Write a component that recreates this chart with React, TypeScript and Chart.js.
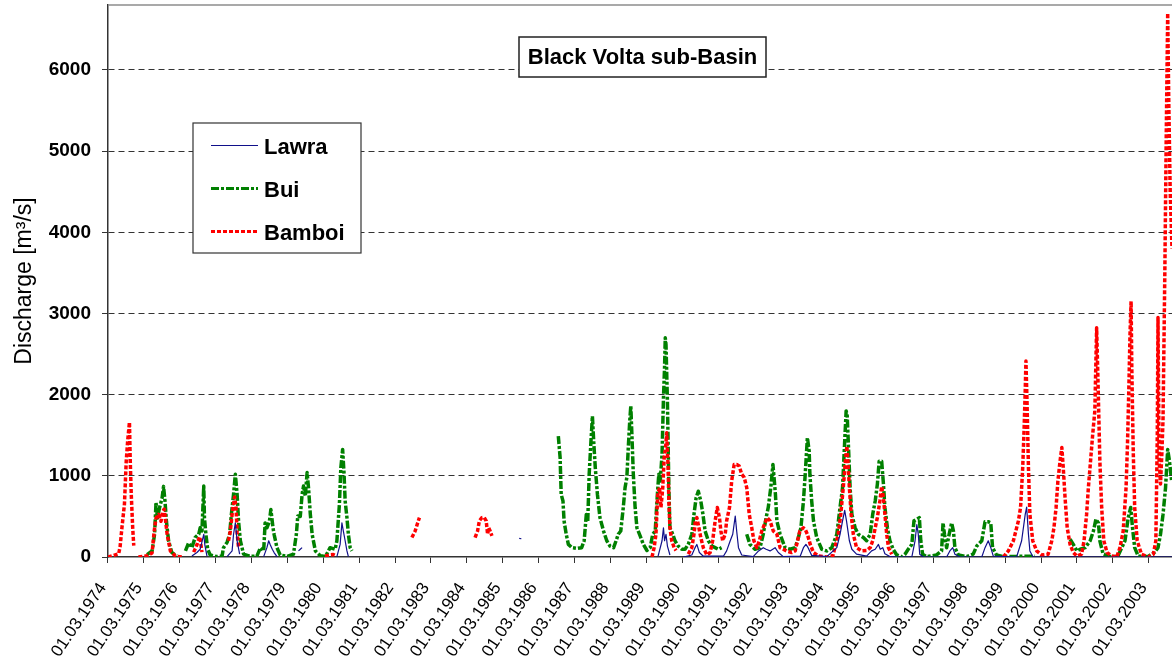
import { useEffect, useRef } from 'react';
import { Chart, registerables } from 'chart.js';

Chart.register(...registerables);

// Discharge records: [decimal year, m³/s]; null marks a gap in the record.
type Pt = [number, number] | null;

const LAWRA: Pt[] = [
  [1976.50, 12], [1976.64, 55], [1976.73, 95], [1976.83, 280], [1976.86, 150], [1976.92, 12], null,
  [1977.48, 5], [1977.62, 75], [1977.66, 280], [1977.71, 420], [1977.76, 200], [1977.83, 35], null,
  [1978.50, 5], [1978.59, 115], [1978.64, 200], [1978.68, 155], [1978.74, 95], [1978.79, 55], [1978.87, 5], null,
  [1979.47, 75], [1979.52, 95], [1979.57, 115], null,
  [1980.54, 5], [1980.63, 155], [1980.68, 420], [1980.72, 320], [1980.77, 200], [1980.82, 75], [1980.86, 5], null,
  [1985.62, 230], [1985.68, 225], null,
  [1989.49, 12], [1989.60, 200], [1989.64, 360], [1989.67, 200], [1989.71, 280], [1989.75, 135], [1989.82, 25], null,
  [1990.20, 0], [1990.43, 25], [1990.52, 115], [1990.57, 155], [1990.64, 55], [1990.75, 10], [1991.31, 10],
  [1991.40, 75], [1991.50, 200], [1991.57, 280], [1991.64, 505], [1991.68, 320], [1991.73, 115], [1991.82, 25],
  [1992.14, 5], [1992.29, 75], [1992.42, 115], [1992.50, 95], [1992.61, 75], [1992.75, 115], [1992.84, 55],
  [1992.98, 5], [1993.45, 10], [1993.54, 115], [1993.61, 155], [1993.67, 115], [1993.77, 20], [1994.19, 5],
  [1994.47, 115], [1994.56, 280], [1994.63, 445], [1994.69, 575], [1994.74, 445], [1994.82, 200], [1994.89, 95],
  [1995.02, 35], [1995.30, 10], [1995.44, 75], [1995.54, 95], [1995.63, 155], [1995.68, 95], [1995.75, 115],
  [1995.81, 40], [1995.95, 5], [1996.14, 0], [1996.56, 0], [1996.65, 200], [1996.70, 400], [1996.74, 280],
  [1996.78, 35], [1996.88, 0], [1997.53, 0], [1997.62, 75], [1997.70, 115], [1997.76, 35], [1997.90, 0],
  [1998.51, 0], [1998.60, 115], [1998.69, 200], [1998.76, 115], [1998.83, 10], [1999.48, 0], [1999.62, 200],
  [1999.72, 525], [1999.76, 615], [1999.81, 280], [1999.85, 75], [1999.94, 0], [2003.81, 0],
];

const BUI: Pt[] = [
  [1975.25, 30], [1975.39, 75], [1975.46, 280], [1975.50, 670], [1975.54, 480], [1975.60, 610], [1975.67, 730],
  [1975.71, 870], [1975.75, 690], [1975.79, 440], [1975.85, 200], [1975.94, 55], [1976.08, 12], null,
  [1976.32, 75], [1976.41, 175], [1976.50, 115], [1976.59, 240], [1976.69, 280], [1976.73, 360], [1976.78, 320],
  [1976.83, 875], [1976.85, 480], [1976.89, 280], [1976.94, 95], [1977.01, 25], [1977.18, 5], [1977.34, 10],
  [1977.38, 115], [1977.48, 180], [1977.55, 280], [1977.60, 525], [1977.66, 770], [1977.71, 1020], [1977.76, 770],
  [1977.80, 440], [1977.85, 200], [1977.94, 35], [1978.13, 8], [1978.31, 10], [1978.41, 115], [1978.50, 75],
  [1978.54, 420], [1978.59, 360], [1978.66, 440], [1978.70, 585], [1978.76, 360], [1978.79, 280], [1978.87, 115],
  [1978.96, 25], [1979.15, 8], [1979.33, 35], [1979.41, 280], [1979.45, 505], [1979.52, 500], [1979.57, 770],
  [1979.61, 875], [1979.66, 750], [1979.71, 1040], [1979.75, 850], [1979.80, 525], [1979.85, 280], [1979.94, 75],
  [1980.08, 15], [1980.22, 5], [1980.35, 115], [1980.49, 95], [1980.54, 200], [1980.61, 650], [1980.65, 1100],
  [1980.70, 1325], [1980.74, 1020], [1980.77, 690], [1980.82, 485], [1980.86, 280], [1980.91, 115], [1980.96, 75], null,
  [1986.71, 1490], [1986.76, 1225], [1986.79, 770], [1986.84, 690], [1986.87, 445], [1986.93, 280], [1986.99, 155],
  [1987.09, 115], [1987.23, 105], [1987.36, 115], [1987.43, 200], [1987.49, 525], [1987.53, 440], [1987.57, 1020],
  [1987.62, 1430], [1987.66, 1735], [1987.70, 1390], [1987.74, 1100], [1987.80, 770], [1987.87, 485], [1987.97, 320],
  [1988.06, 200], [1988.15, 135], [1988.25, 115], [1988.32, 200], [1988.38, 280], [1988.45, 320], [1988.52, 610],
  [1988.57, 855], [1988.62, 980], [1988.66, 1350], [1988.70, 1675], [1988.73, 1860], [1988.76, 1510], [1988.80, 1020],
  [1988.85, 610], [1988.90, 360], [1988.99, 260], [1989.08, 155], [1989.18, 80], [1989.27, 115], [1989.34, 280],
  [1989.41, 320], [1989.47, 770], [1989.51, 1020], [1989.55, 935], [1989.60, 1265], [1989.64, 1960], [1989.67, 2330],
  [1989.69, 2700], [1989.71, 2620], [1989.75, 1920], [1989.79, 855], [1989.82, 360], [1989.90, 280], [1989.96, 200],
  [1990.05, 135], [1990.15, 95], [1990.24, 95], [1990.33, 155], [1990.43, 280], [1990.49, 525], [1990.55, 730],
  [1990.61, 810], [1990.68, 690], [1990.74, 525], [1990.80, 320], [1990.89, 200], [1990.99, 135], [1991.08, 115],
  [1991.17, 95], [1991.26, 115], null,
  [1991.96, 280], [1992.05, 155], [1992.19, 95], [1992.33, 115], [1992.42, 280], [1992.50, 485], [1992.56, 610],
  [1992.63, 855], [1992.69, 1140], [1992.73, 935], [1992.76, 770], [1992.80, 445], [1992.89, 280], [1993.03, 115],
  [1993.17, 95], [1993.31, 115], [1993.40, 240], [1993.47, 360], [1993.54, 690], [1993.59, 1020], [1993.65, 1470],
  [1993.70, 1305], [1993.72, 1020], [1993.77, 690], [1993.82, 445], [1993.91, 240], [1994.05, 95], [1994.19, 75],
  [1994.33, 115], [1994.47, 280], [1994.56, 610], [1994.63, 855], [1994.69, 1430], [1994.73, 1800], [1994.76, 1740],
  [1994.80, 1305], [1994.84, 855], [1994.89, 525], [1994.98, 360], [1995.07, 280], [1995.21, 240], [1995.30, 200],
  [1995.40, 280], [1995.47, 525], [1995.54, 690], [1995.60, 895], [1995.65, 1180], [1995.72, 1180], [1995.77, 895],
  [1995.81, 610], [1995.88, 360], [1995.95, 200], [1996.04, 95], [1996.14, 25], [1996.28, 0], [1996.37, 35],
  [1996.46, 95], [1996.56, 155], [1996.62, 445], [1996.70, 465], [1996.77, 485], [1996.81, 200], [1996.86, 35],
  [1996.97, 5], [1997.25, 25], [1997.39, 75], [1997.43, 420], [1997.47, 280], [1997.53, 115], [1997.60, 280],
  [1997.67, 420], [1997.72, 320], [1997.76, 115], [1997.86, 25], [1998.09, 5], [1998.27, 35], [1998.37, 135],
  [1998.51, 200], [1998.60, 435], [1998.69, 435], [1998.76, 420], [1998.81, 115], [1998.92, 25], [1999.11, 5],
  [1999.58, 8], [1999.99, 10], null,
  [2000.97, 218], [2001.06, 155], [2001.16, 75], [2001.25, 95], [2001.39, 115], [2001.53, 200], [2001.62, 320],
  [2001.69, 465], [2001.76, 420], [2001.80, 200], [2001.89, 35], [2002.08, 5], [2002.30, 8], [2002.50, 200],
  [2002.59, 485], [2002.66, 610], [2002.71, 360], [2002.77, 115], [2002.87, 10], [2003.14, 5], [2003.33, 60],
  [2003.42, 115], [2003.49, 280], [2003.56, 525], [2003.63, 855], [2003.69, 1325], [2003.74, 1180], [2003.80, 935],
];

const BAMBOI: Pt[] = [
  [1974.16, 0], [1974.32, 20], [1974.46, 40], [1974.50, 130], [1974.55, 360], [1974.62, 650], [1974.67, 1180],
  [1974.71, 1430], [1974.76, 1660], [1974.78, 1220], [1974.81, 770], [1974.85, 360], [1974.88, 140], null,
  [1975.01, 0], [1975.25, 15], [1975.39, 50], [1975.45, 320], [1975.50, 480], [1975.57, 525], [1975.64, 440],
  [1975.69, 565], [1975.73, 590], [1975.81, 280], [1975.90, 75], [1976.04, 12], [1976.22, 0], null,
  [1976.55, 60], [1976.64, 150], [1976.71, 250], [1976.73, 220], [1976.78, 60], null,
  [1977.52, 200], [1977.57, 320], [1977.62, 525], [1977.66, 650], [1977.69, 740], [1977.73, 610], [1977.76, 300],
  [1977.80, 115], null,
  [1980.21, 10], [1980.33, 25], [1980.44, 30], [1980.52, 15], null,
  [1982.63, 240], [1982.72, 320], [1982.79, 420], [1982.84, 485], null,
  [1984.39, 240], [1984.46, 320], [1984.51, 445], [1984.58, 485], [1984.64, 490], [1984.70, 445], [1984.74, 280],
  [1984.77, 360], [1984.81, 320], [1984.86, 260], null,
  [1989.32, 0], [1989.38, 115], [1989.43, 280], [1989.48, 770], [1989.53, 855], [1989.57, 610], [1989.62, 855],
  [1989.66, 1225], [1989.70, 1350], [1989.73, 1530], [1989.77, 1100], [1989.79, 690], [1989.82, 360], [1989.87, 200],
  [1989.94, 115], [1989.99, 80], null,
  [1990.33, 35], [1990.43, 115], [1990.49, 280], [1990.53, 445], [1990.57, 485], [1990.61, 400], [1990.68, 240],
  [1990.75, 115], [1990.85, 25], [1990.94, 55], [1991.01, 200], [1991.08, 445], [1991.14, 610], [1991.20, 485],
  [1991.24, 320], [1991.29, 200], [1991.36, 280], [1991.40, 445], [1991.48, 610], [1991.54, 935], [1991.61, 1140],
  [1991.68, 1140], [1991.75, 1120], [1991.82, 1020], [1991.89, 980], [1991.96, 855], [1992.03, 525], [1992.10, 360],
  [1992.16, 200], [1992.24, 115], [1992.31, 200], [1992.38, 320], [1992.47, 420], [1992.53, 485], [1992.61, 445],
  [1992.70, 320], [1992.80, 280], [1992.89, 115], [1993.07, 75], [1993.21, 55], [1993.31, 75], [1993.44, 320],
  [1993.54, 360], [1993.59, 340], [1993.65, 280], [1993.73, 155], [1993.82, 55], [1993.96, 12], [1994.19, 0],
  [1994.36, 15], [1994.51, 280], [1994.58, 525], [1994.65, 855], [1994.71, 1180], [1994.75, 1365], [1994.78, 1180],
  [1994.82, 855], [1994.87, 525], [1994.93, 280], [1995.02, 115], [1995.16, 75], [1995.30, 80], [1995.40, 115],
  [1995.47, 200], [1995.54, 360], [1995.60, 485], [1995.67, 690], [1995.72, 870], [1995.77, 730], [1995.81, 525],
  [1995.86, 280], [1995.91, 115], [1996.00, 35], null,
  [1999.11, 0], [1999.25, 75], [1999.39, 200], [1999.53, 445], [1999.59, 610], [1999.65, 1100], [1999.69, 1595],
  [1999.72, 2045], [1999.74, 2415], [1999.77, 1920], [1999.81, 1100], [1999.85, 525], [1999.93, 200], [2000.04, 75],
  [2000.18, 25], [2000.36, 35], [2000.46, 200], [2000.52, 360], [2000.58, 610], [2000.63, 935], [2000.69, 1180],
  [2000.74, 1350], [2000.78, 1100], [2000.83, 730], [2000.89, 360], [2000.97, 155], [2001.06, 55], [2001.16, 12],
  [2001.29, 35], [2001.36, 200], [2001.43, 525], [2001.48, 855], [2001.54, 1180], [2001.60, 1510], [2001.66, 1800],
  [2001.71, 2825], [2001.75, 2125], [2001.80, 1180], [2001.85, 610], [2001.91, 200], [2002.00, 55], [2002.13, 12],
  [2002.27, 0], [2002.36, 115], [2002.45, 320], [2002.53, 855], [2002.57, 1390], [2002.61, 2125], [2002.64, 2745],
  [2002.67, 3150], [2002.69, 2330], [2002.73, 1305], [2002.77, 610], [2002.84, 200], [2002.96, 35], [2003.15, 0],
  [2003.29, 35], [2003.36, 200], [2003.40, 1500], [2003.42, 2950], [2003.45, 1200], [2003.49, 900], [2003.53, 1300],
  [2003.56, 1700], [2003.61, 3500], [2003.65, 5200], [2003.69, 6700], [2003.72, 5600], [2003.76, 4500], [2003.81, 3800],
];

// Axis ticks: one label per hydrological year start (1 March)
const TICK_YEARS = [
  1974, 1975, 1976, 1977, 1978, 1979, 1980, 1981, 1982, 1983, 1984, 1985, 1986, 1987, 1988,
  1989, 1990, 1991, 1992, 1993, 1994, 1995, 1996, 1997, 1998, 1999, 2000, 2001, 2002, 2003,
];
const Y_TICKS = [0, 1000, 2000, 3000, 4000, 5000, 6000];
const MARCH_FIRST = 0.1616; // 1 March as a fraction of the year

const TITLE = 'Black Volta sub-Basin';
const Y_TITLE = 'Discharge [m³/s]';
const X_MIN = 1974.162;
const X_MAX = 2003.81;
const Y_MAX = 6800;

const FONT = "'Liberation Sans', Arial, Helvetica, sans-serif";

const STATIONS = [
  { label: 'Lawra', data: LAWRA, color: '#10108a', width: 1.2, dash: [] as number[], order: 0 },
  { label: 'Bui', data: BUI, color: '#008000', width: 3.5, dash: [8, 2, 3, 2], order: 2 },
  { label: 'Bamboi', data: BAMBOI, color: '#ff0000', width: 3.5, dash: [4, 2], order: 1 },
];

function toXY(pts: Pt[]) {
  const out: { x: number; y: number | null }[] = [];
  let lastX = X_MIN;
  for (const p of pts) {
    if (p === null) {
      out.push({ x: lastX + 0.02, y: null });
    } else {
      out.push({ x: p[0], y: p[1] });
      lastX = p[0];
    }
  }
  return out;
}

// Frame top edge, boxed title and boxed legend
const decorPlugin = {
  id: 'decor',
  afterDraw(chart: any) {
    const { ctx, chartArea: a } = chart;
    ctx.save();

    ctx.strokeStyle = '#8c8c8c';
    ctx.lineWidth = 1.5;
    ctx.setLineDash([]);
    ctx.beginPath();
    ctx.moveTo(a.left, a.top);
    ctx.lineTo(a.right, a.top);
    ctx.stroke();

    // title box
    ctx.fillStyle = '#ffffff';
    ctx.fillRect(519, 37, 247, 40);
    ctx.strokeStyle = '#222222';
    ctx.lineWidth = 1.5;
    ctx.strokeRect(519, 37, 247, 40);
    ctx.fillStyle = '#000000';
    ctx.font = `bold 22px ${FONT}`;
    ctx.textAlign = 'center';
    ctx.textBaseline = 'alphabetic';
    ctx.fillText(TITLE, 642.5, 63.5);

    // legend box
    ctx.fillStyle = '#ffffff';
    ctx.fillRect(193, 123, 168, 130);
    ctx.strokeStyle = '#333333';
    ctx.lineWidth = 1.2;
    ctx.strokeRect(193, 123, 168, 130);
    const rowY = [145.5, 188.5, 231.5];
    STATIONS.forEach((s, i) => {
      const y = rowY[i];
      ctx.strokeStyle = s.color;
      ctx.lineWidth = Math.min(s.width, 3);
      ctx.setLineDash(s.dash);
      ctx.beginPath();
      ctx.moveTo(211, y);
      ctx.lineTo(258, y);
      ctx.stroke();
      ctx.setLineDash([]);
      ctx.fillStyle = '#000000';
      ctx.font = `bold 22px ${FONT}`;
      ctx.textAlign = 'left';
      ctx.fillText(s.label, 264, y + 8);
    });

    ctx.restore();
  },
};

export default function App() {
  const canvasRef = useRef<HTMLCanvasElement | null>(null);

  useEffect(() => {
    const canvas = canvasRef.current;
    if (!canvas) return;
    const chart = new Chart(canvas, {
      type: 'line',
      data: {
        datasets: STATIONS.map((s) => ({
          label: s.label,
          data: toXY(s.data) as any,
          borderColor: s.color,
          backgroundColor: s.color,
          borderWidth: s.width,
          borderDash: s.dash,
          borderJoinStyle: 'round' as const,
          pointRadius: 0,
          tension: 0,
          spanGaps: false,
          order: s.order,
        })),
      },
      options: {
        responsive: false,
        animation: false,
        devicePixelRatio: 1,
        events: [],
        layout: { padding: { top: 5, left: 0, right: 0, bottom: 0 } },
        plugins: {
          legend: { display: false },
          title: { display: false },
          tooltip: { enabled: false },
        },
        scales: {
          x: {
            type: 'linear',
            min: X_MIN,
            max: X_MAX,
            afterBuildTicks: (scale: any) => {
              scale.ticks = TICK_YEARS.map((y) => ({ value: y + MARCH_FIRST }));
            },
            afterFit: (scale: any) => {
              scale.height = 104;
              scale.paddingLeft = 0;
              scale.paddingRight = 0;
            },
            ticks: {
              autoSkip: false,
              minRotation: 56,
              maxRotation: 56,
              padding: 16,
              labelOffset: -5,
              color: '#000000',
              font: { family: FONT, size: 17, lineHeight: 1.2 },
              callback: (v: any) => `01.03.${Math.round(Number(v) - MARCH_FIRST)}`,
            },
            grid: {
              display: true,
              drawOnChartArea: false,
              drawTicks: true,
              tickLength: 6,
              tickColor: '#333333',
              color: '#333333',
            },
            border: { display: true, color: '#333333', width: 1.5 },
          },
          y: {
            type: 'linear',
            min: 0,
            max: Y_MAX,
            afterBuildTicks: (scale: any) => {
              scale.ticks = Y_TICKS.map((v) => ({ value: v }));
            },
            afterFit: (scale: any) => {
              scale.width = 108;
              scale.paddingTop = 0;
              scale.paddingBottom = 0;
            },
            ticks: {
              padding: 11,
              color: '#000000',
              font: { family: FONT, size: 19, weight: 'bold' },
              callback: (v: any) => String(v),
            },
            grid: {
              display: true,
              drawTicks: true,
              tickLength: 6,
              tickColor: '#333333',
              lineWidth: 1,
              color: (c: any) => (c.tick && c.tick.value === 0 ? 'rgba(0,0,0,0)' : '#333333'),
            },
            border: { display: true, color: '#333333', width: 1.5, dash: [6, 4] },
            title: {
              display: true,
              text: Y_TITLE,
              color: '#000000',
              font: { family: FONT, size: 23, lineHeight: 1.2 },
              padding: { top: 11, bottom: 0 },
            },
          },
        },
      },
      plugins: [decorPlugin],
    });
    return () => chart.destroy();
  }, []);

  return (
    <div
      style={{
        position: 'fixed',
        left: 0,
        top: 0,
        width: 1172,
        height: 661,
        background: '#ffffff',
        overflow: 'hidden',
      }}
    >
      <canvas ref={canvasRef} width={1172} height={661} style={{ display: 'block' }} />
    </div>
  );
}
